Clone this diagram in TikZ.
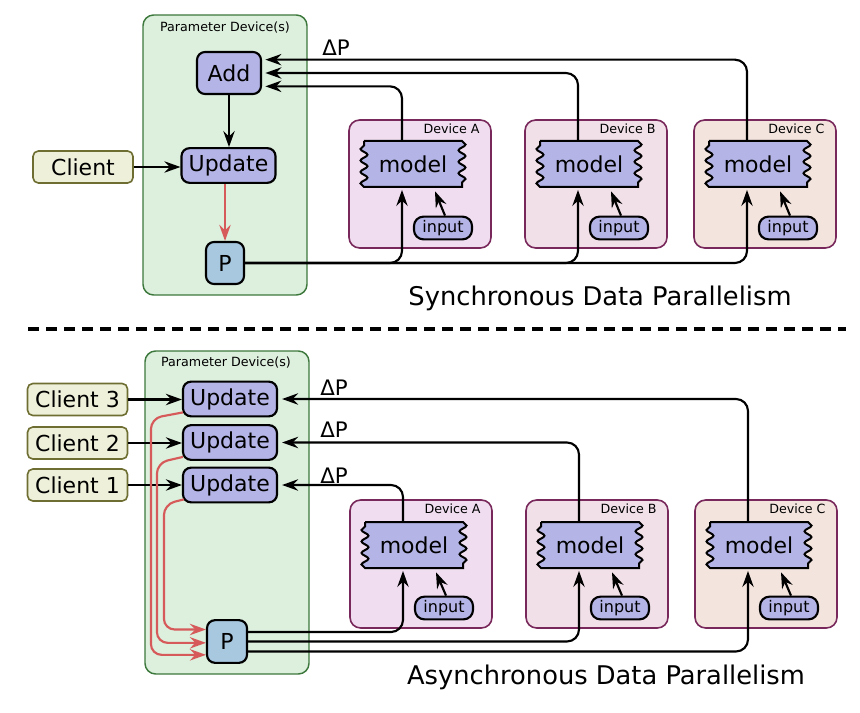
\documentclass[tikz,border=0pt]{standalone}
\usepackage{fontspec}
\setmainfont{DejaVu Sans}
\usetikzlibrary{arrows.meta,decorations.pathmorphing,calc}
\definecolor{pgreen}{RGB}{221,239,221}
\definecolor{pgreenb}{RGB}{60,120,60}
\definecolor{clientf}{RGB}{238,240,218}
\definecolor{clientb}{RGB}{110,110,50}
\definecolor{purp}{RGB}{180,180,230}
\definecolor{pblue}{RGB}{168,200,224}
\definecolor{devAf}{RGB}{240,222,240}
\definecolor{devBf}{RGB}{242,224,232}
\definecolor{devCf}{RGB}{243,228,222}
\definecolor{devb}{RGB}{120,40,90}
\definecolor{redarr}{RGB}{214,90,90}
\tikzset{
 nd/.style={draw=black, line width=1.6pt, rounded corners=6pt, inner sep=0pt, font=\fontsize{16.5}{19}\selectfont},
 upd/.style={nd, fill=purp, minimum width=70.5pt, minimum height=26pt},
 addn/.style={nd, fill=purp, minimum width=48pt, minimum height=31.5pt},
 pn/.style={nd, fill=pblue, minimum width=28.5pt, minimum height=31.5pt},
 cli/.style={nd, draw=clientb, line width=1.2pt, rounded corners=4pt, fill=clientf, minimum width=75pt, minimum height=24pt},
 inp/.style={draw=black, line width=1.6pt, rounded corners=7pt, fill=purp, minimum width=43.5pt, minimum height=17pt, inner sep=0pt, font=\fontsize{12}{14}\selectfont},
 pdev/.style={draw=pgreenb, line width=1.1pt, fill=pgreen, rounded corners=8pt, inner sep=0pt, minimum width=123pt},
 devbox/.style={draw=devb, line width=1.2pt, rounded corners=8pt, inner sep=0pt, minimum width=106.5pt, minimum height=96pt},
 small/.style={font=\fontsize{9.5}{11}\selectfont, inner sep=0pt},
 dp/.style={font=\fontsize{16}{18}\selectfont, inner sep=0pt},
 ttl/.style={font=\fontsize{19.3}{22}\selectfont, inner sep=0pt},
 arr/.style={line width=1.6pt, -{Stealth[length=12pt,width=8.5pt,inset=4pt]}},
 rarr/.style={arr, draw=redarr},
 mdl/.style={draw=black, line width=1.5pt, fill=purp, decoration={snake, segment length=8.6pt, amplitude=2.6pt}},
 mdltext/.style={font=\fontsize{16.5}{19}\selectfont, inner sep=0pt, minimum width=73.5pt, minimum height=34.5pt},
}
\newcommand\mdlnode[3]{%
 \draw[mdl] (#2-49,#3-23) -- (#2+49,#3-23) decorate {-- (#2+49,#3+23)} -- (#2-49,#3+23) decorate {-- (#2-49,#3-23)} -- cycle;
 \node[mdltext] (#1) at (#2,#3) {model};
}
\begin{document}
\begin{tikzpicture}[x=0.75pt,y=-0.75pt]
\useasboundingbox (0,0) rectangle (860,713);

% ---------- Synchronous ----------
\node[pdev, minimum height=210pt] (pd1) at (225,155) {};
\node[small] (pl1) at (225,28) {Parameter Device(s)};
\node[addn] (add) at (229,73) {Add};
\node[upd] (up) at (228.5,165.5) {Update};
\node[cli] (cl) at (83,167) {Client};
\node[pn] (p1) at (225,263) {P};

\node[devbox, fill=devAf] (dA) at (420,184) {};
\node[devbox, fill=devBf] (dB) at (596,184) {};
\node[devbox, fill=devCf] (dC) at (765,184) {};
\node[small, anchor=east] (lA) at ($(dA.north east)+(-12,10)$) {Device A};
\node[small, anchor=east] (lB) at ($(dB.north east)+(-12,10)$) {Device B};
\node[small, anchor=east] (lC) at ($(dC.north east)+(-12,10)$) {Device C};
\mdlnode{mA}{413}{164}
\mdlnode{mB}{589}{164}
\mdlnode{mC}{758}{164}
\node[inp] (iA) at (443,228) {input};
\node[inp] (iB) at (619,228) {input};
\node[inp] (iC) at (788,228) {input};
\coordinate (vA) at (402,0);
\coordinate (vB) at (578,0);
\coordinate (vC) at (747,0);

\node[dp] (dpt) at (336,48) {ΔP};

\draw[arr] (add.south) -- (add.south |- up.north);
\draw[arr] (cl.east) -- (cl.east -| up.west);
\draw[rarr] (p1.north |- up.south) -- (p1.north);

\draw[arr, rounded corners=9pt, shorten >=2.5pt] (mC.north -| vC) |- ([yshift=10pt]add.east);
\draw[arr, rounded corners=9pt, shorten >=2.5pt] (mB.north -| vB) |- (add.east);
\draw[arr, rounded corners=9pt, shorten >=2.5pt] (mA.north -| vA) |- ([yshift=-10pt]add.east);

\draw[arr, rounded corners=9pt, shorten >=2pt] (p1.east) -| (mA.south -| vA);
\draw[arr, rounded corners=9pt, shorten >=2pt] (p1.east) -| (mB.south -| vB);
\draw[arr, rounded corners=9pt, shorten >=2pt] (p1.east) -| (mC.south -| vC);

\draw[arr] ([xshift=1.5pt]iA.north) -- ([xshift=16.5pt,yshift=-3pt]mA.south);
\draw[arr] ([xshift=1.5pt]iB.north) -- ([xshift=16.5pt,yshift=-3pt]mB.south);
\draw[arr] ([xshift=1.5pt]iC.north) -- ([xshift=16.5pt,yshift=-3pt]mC.south);

\node[ttl] (t1) at (600,298) {Synchronous Data Parallelism};

\draw[line width=2.4pt, dash pattern=on 8pt off 5.5pt] (28,329) -- (846,329);

% ---------- Asynchronous ----------
\node[pdev, minimum height=242.25pt] (pd2) at (227,512.5) {};
\node[small] (pl2) at (226,363) {Parameter Device(s)};
\node[upd] (u3) at (230,399) {Update};
\node[upd] (u2) at (230,442.5) {Update};
\node[upd] (u1) at (230,485) {Update};
\node[cli] (c3) at (77.5,399.5) {Client 3};
\node[cli] (c2) at (77.5,443) {Client 2};
\node[cli] (c1) at (77.5,485) {Client 1};
\node[pn, minimum width=30pt, minimum height=32pt] (p2) at (227,641.5) {P};

\node[devbox, fill=devAf] (eA) at (421,564) {};
\node[devbox, fill=devBf] (eB) at (597,564) {};
\node[devbox, fill=devCf] (eC) at (766,564) {};
\node[small, anchor=east] (kA) at ($(eA.north east)+(-12,10)$) {Device A};
\node[small, anchor=east] (kB) at ($(eB.north east)+(-12,10)$) {Device B};
\node[small, anchor=east] (kC) at ($(eC.north east)+(-12,10)$) {Device C};
\mdlnode{nA}{414}{545}
\mdlnode{nB}{590}{545}
\mdlnode{nC}{759}{545}
\node[inp] (jA) at (444,608) {input};
\node[inp] (jB) at (620,608) {input};
\node[inp] (jC) at (789,608) {input};
\coordinate (wA) at (403,0);
\coordinate (wB) at (579,0);
\coordinate (wC) at (748,0);

\node[dp] (dp3) at (334,388) {ΔP};
\node[dp] (dp2) at (334,430) {ΔP};
\node[dp] (dp1) at (334,476) {ΔP};

\draw[arr] (c3.east) -- (c3.east -| u3.west);
\draw[arr] (c2.east) -- (c2.east -| u2.west);
\draw[arr] (c1.east) -- (c1.east -| u1.west);

\draw[arr, rounded corners=9pt, shorten >=3pt] (nC.north -| wC) |- (u3.east);
\draw[arr, rounded corners=9pt, shorten >=3pt] (nB.north -| wB) |- (u2.east);
\draw[arr, rounded corners=9pt, shorten >=3pt] (nA.north -| wA) |- (u1.east);

\draw[arr, rounded corners=9pt, shorten >=2pt] ([yshift=7.1pt]p2.east) -| (nA.south -| wA);
\draw[arr, rounded corners=9pt, shorten >=2pt] (p2.east) -| (nB.south -| wB);
\draw[arr, rounded corners=9pt, shorten >=2pt] ([yshift=-7.5pt]p2.east) -| (nC.south -| wC);

\draw[arr] ([xshift=1.5pt]jA.north) -- ([xshift=16.5pt,yshift=-3pt]nA.south);
\draw[arr] ([xshift=1.5pt]jB.north) -- ([xshift=16.5pt,yshift=-3pt]nB.south);
\draw[arr] ([xshift=1.5pt]jC.north) -- ([xshift=16.5pt,yshift=-3pt]nC.south);

\draw[rarr, rounded corners=8pt] ($(u3.south west)+(1,-5)$) -- ++(-32,6) |- ([yshift=-10pt]p2.west);
\draw[rarr, rounded corners=8pt] ($(u2.south west)+(1,-4)$) -- ++(-26,6) |- ([yshift=-1pt]p2.west);
\draw[rarr, rounded corners=8pt] ($(u1.south west)+(2,-4)$) -- ++(-20,5) |- ([yshift=9pt]p2.west);

\node[ttl] (t2) at (606,677) {Asynchronous Data Parallelism};
\end{tikzpicture}
\end{document}
